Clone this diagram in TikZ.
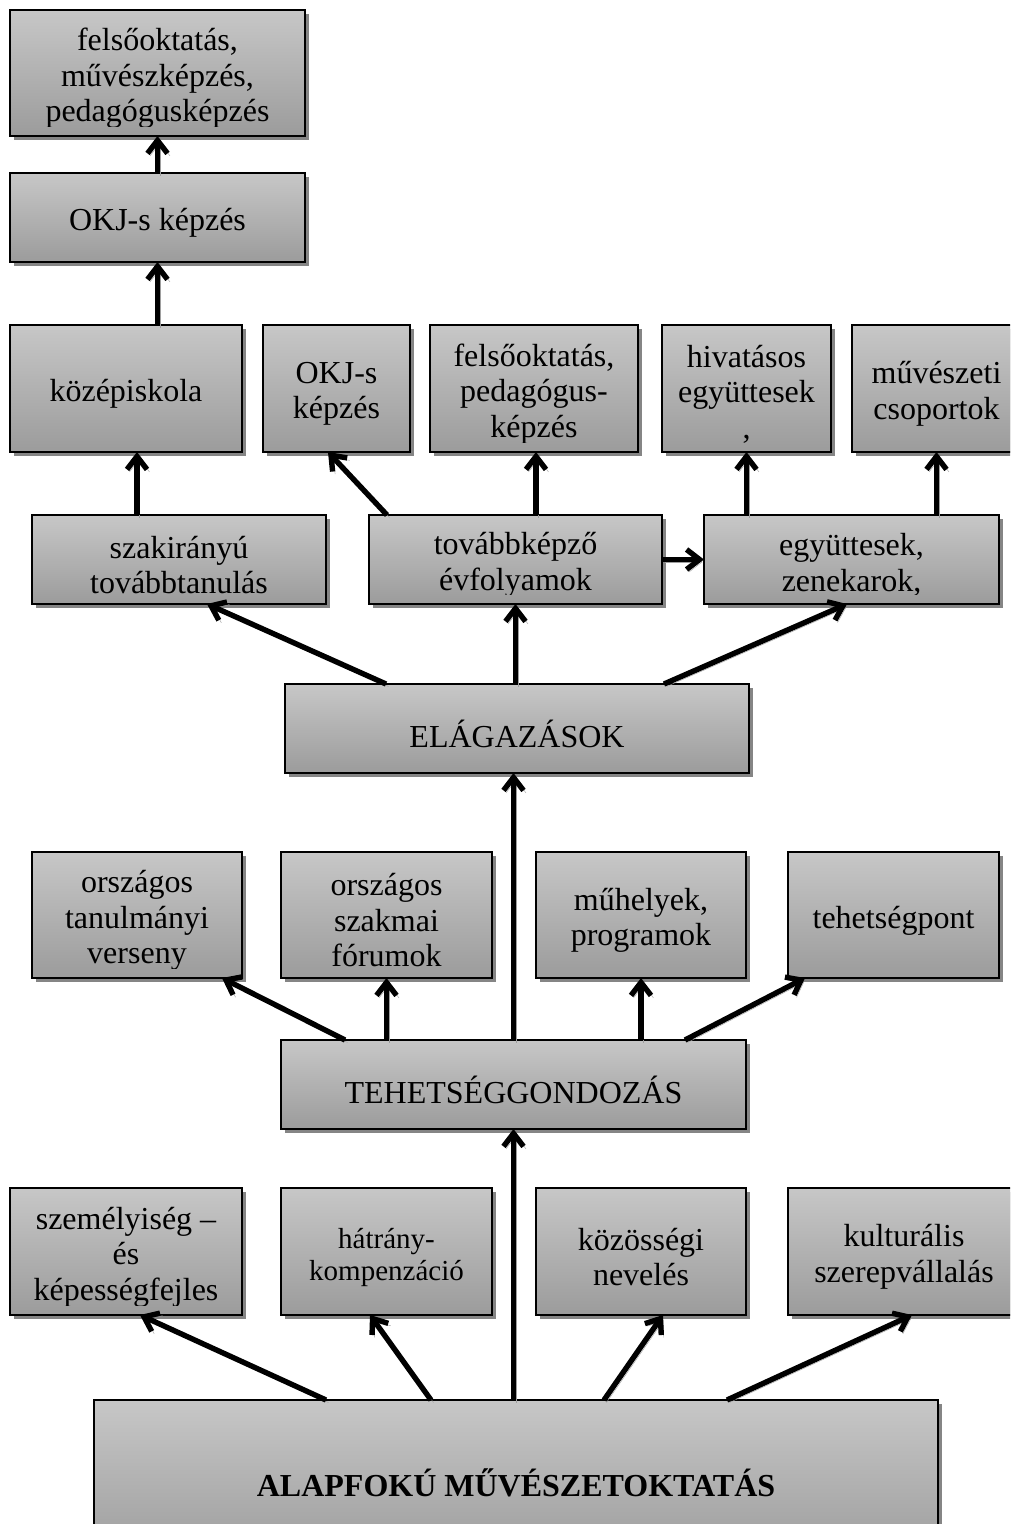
\documentclass[tikz,border=0pt]{standalone}
\usepackage{fontspec}
\setmainfont{Liberation Serif}
\usetikzlibrary{arrows.meta,shadows,calc}
\tikzset{
  gbox/.style={draw=black, line width=1.8pt, top color=black!22, bottom color=black!39,
    inner sep=0pt, outer sep=0pt,
    drop shadow={shadow xshift=3.5pt, shadow yshift=-3.5pt, fill=black!48, opacity=1}},
  lbl/.style={font=\fontsize{32}{35.5}\selectfont, align=center, inner sep=0pt},
  arr/.style={line width=5.4pt, -{Straight Barb[length=13pt,width=20pt]},
    preaction={draw=black!38, transform canvas={shift={(2.5pt,-2.5pt)}}}},
}
\newcommand\gb[7][]{%
  \node[gbox, minimum width=#5pt, minimum height=#6pt] (#2) at (#3,#4) {};
  \begin{scope}
    \clip ([shift={(1pt,10pt)}]#2.south west) rectangle ([shift={(-1pt,-1pt)}]#2.north east);
    \node[lbl,#1] at ([yshift=-5.5pt]#2.center) {#7};
  \end{scope}}
\begin{document}
\begin{tikzpicture}[x=1pt,y=-1pt]
\fill[white] (0,0) rectangle (1010,1524);
\useasboundingbox (0,0) rectangle (1010,1524);
\begin{scope}
\clip (0,0) rectangle (1010,1524);
% boxes
\gb{felsoA}{157.5}{73}{295}{126}{felsőoktatás,\\művészképzés,\\pedagógusképzés}
\gb{okjA}{157.5}{217.5}{295}{89}{OKJ-s képzés}
\gb{kozep}{126}{388.5}{232}{127}{középiskola}
\gb{okjB}{336.5}{388.5}{147}{127}{OKJ-s\\képzés}
\gb{felsoB}{534}{388.5}{208}{127}{felsőoktatás,\\pedagógus-\\képzés}
\gb{hiv}{746.5}{388.5}{169}{127}{hivatásos\\együttesek\\,}
\gb{muv}{936.5}{388.5}{169}{127}{művészeti\\csoportok}
\gb{szak}{179}{559.5}{294}{89}{szakirányú\\továbbtanulás}
\gb{tovabb}{515.5}{559.5}{293}{89}{továbbképző\\évfolyamok}
\gb{egy}{851.5}{559.5}{295}{89}{együttesek,\\zenekarok,}
\gb{elag}{517}{728.5}{464}{89}{ELÁGAZÁSOK}
\gb{orszA}{137}{915}{210}{126}{országos\\tanulmányi\\verseny}
\gb{orszB}{386.5}{915}{211}{126}{országos\\szakmai\\fórumok}
\gb{muh}{641}{915}{210}{126}{műhelyek,\\programok}
\gb{teh}{893.5}{915}{211}{126}{tehetségpont}
\gb{tg}{513.5}{1084.5}{465}{89}{TEHETSÉGGONDOZÁS}
\gb{szem}{126}{1251.5}{232}{127}{személyiség –\\és\\képességfejles}
\gb[font=\fontsize{29}{32}\selectfont]{hat}{386.5}{1251.5}{211}{127}{hátrány-\\kompenzáció}
\gb{koz}{641}{1251.5}{210}{127}{közösségi\\nevelés}
\gb{kult}{904}{1251.5}{232}{127}{kulturális\\szerepvállalás}
\gb[yshift=5pt]{alap}{516}{1482}{844}{164}{\textbf{ALAPFOKÚ MŰVÉSZETOKTATÁS}}
% arrows
\draw[arr] (okjA.north) -- (felsoA.south);
\draw[arr] (kozep.north -| okjA.south) -- (okjA.south);
\draw[arr] ([xshift=-42pt]szak.north) -- ([xshift=11pt]kozep.south);
\draw[arr] ([xshift=-128.5pt]tovabb.north) -- ([xshift=-8.5pt]okjB.south);
\draw[arr] ([xshift=20.5pt]tovabb.north) -- ([xshift=2pt]felsoB.south);
\draw[arr] (tovabb.east) -- (egy.west);
\draw[arr] (egy.north -| hiv.south) -- (hiv.south);
\draw[arr] (egy.north -| muv.south) -- (muv.south);
\draw[arr] ([xshift=-131pt]elag.north) -- ([xshift=28pt]szak.south);
\draw[arr] (elag.north -| tovabb.south) -- (tovabb.south);
\draw[arr] ([xshift=147pt]elag.north) -- ([xshift=-4.5pt]egy.south);
\draw[arr] (tg.north) -- (tg.north |- elag.south);
\draw[arr] ([xshift=-168.5pt]tg.north) -- ([xshift=85pt]orszA.south);
\draw[arr] (tg.north -| orszB.south) -- (orszB.south);
\draw[arr] (tg.north -| muh.south) -- (muh.south);
\draw[arr] ([xshift=171.5pt]tg.north) -- ([xshift=-88.5pt]teh.south);
\draw[arr] (alap.north -| tg.south) -- (tg.south);
\draw[arr] ([xshift=-190pt]alap.north) -- ([xshift=14pt]szem.south);
\draw[arr] ([xshift=-85pt]alap.north) -- ([xshift=-16.5pt]hat.south);
\draw[arr] ([xshift=88pt]alap.north) -- ([xshift=22pt]koz.south);
\draw[arr] ([xshift=211pt]alap.north) -- ([xshift=8pt]kult.south);
\end{scope}
\end{tikzpicture}
\end{document}
